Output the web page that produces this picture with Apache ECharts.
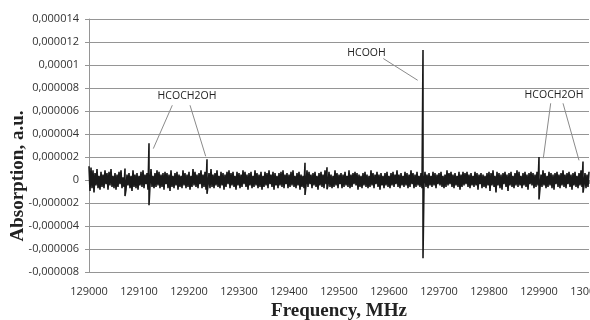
<!DOCTYPE html>
<html>
<head>
<meta charset="utf-8">
<script src="https://cdn.jsdelivr.net/npm/echarts@6/dist/echarts.min.js"></script>
<style>
  html, body { margin: 0; padding: 0; background: #fff; }
  #chart { width: 590px; height: 320px; }
</style>
</head>
<body>
<div id="chart"></div>
<script>
// spectrum sampled every 2 MHz from 129000 MHz, noise in units of 1.2e-7
const freqStart = 129000;
const freqStep = 2;
const noiseUnit = 1.2e-7;
const noise = [
  10,-8,9,-6,7,-9,5,-4,8,-6,3,-7,6,-5,4,-6,7,-3,5,-7,6,-4,8,-5,3,
  -6,5,-7,4,-5,6,-3,7,-6,2,-5,6,-7,4,-4,5,-6,3,-8,7,-5,4,-6,5,-7,
  3,-4,6,-5,7,-6,4,-3,5,-7,6,-4,8,-5,3,-6,5,-5,7,-4,6,-6,4,-5,5,
  -7,6,-3,5,-6,4,-8,7,-5,3,-6,5,-4,6,-7,4,-5,3,-6,7,-4,5,-6,4,-5,
  6,-7,3,-5,8,-4,6,-5,4,-6,5,-3,7,-6,4,-5,6,-7,3,-4,5,-6,8,-5,4,
  -6,5,-4,7,-5,3,-6,6,-4,5,-7,4,-5,6,-3,7,-6,5,-4,6,-5,3,-7,6,-4,
  5,-6,4,-5,7,-3,6,-5,4,-7,5,-4,6,-6,3,-5,7,-4,5,-6,4,-5,6,-7,3,
  -5,6,-4,5,-6,7,-3,4,-5,6,-7,5,-4,3,-6,5,-4,6,-5,7,-6,4,-3,5,-6,
  4,-5,6,-4,7,-5,3,-6,5,-4,6,-7,4,-5,3,-6,5,-4,7,-5,6,-3,4,-6,5,
  -4,6,-5,3,-7,5,-4,6,-5,4,-6,7,-3,5,-4,6,-5,4,-6,3,-5,7,-4,5,-6,
  4,-3,5,-6,4,-5,6,-4,3,-5,7,-6,4,-5,5,-3,6,-4,5,-7,4,-5,3,-6,5,
  -4,6,-5,4,-6,3,-5,7,-4,5,-6,4,-3,6,-5,4,-7,5,-4,3,-6,5,-4,6,-5,
  3,-6,5,-4,6,-5,4,-3,7,-5,4,-6,5,-4,3,-5,6,-4,5,-6,4,-5,7,-3,5,
  -6,4,-5,6,-4,3,-5,5,-6,4,-3,6,-5,4,-6,5,-4,3,-5,6,-4,5,-6,4,-3,
  5,-4,6,-5,3,-6,4,-5,7,-4,5,-3,6,-5,4,-6,5,-4,3,-5,6,-7,4,-5,6,
  -4,5,-3,6,-5,4,-6,5,-4,3,-5,6,-4,5,-7,4,-3,5,-6,4,-5,3,-6,5,-4,
  6,-8,5,-4,7,-5,3,-9,6,-4,5,-6,4,-7,5,-3,6,-5,4,-8,5,-4,6,-5,3,
  -6,5,-4,7,-5,6,-4,3,-6,5,-4,6,-5,4,-7,5,-3,6,-4,5,-6,4,-5,6,-4,
  5,-6,4,-5,7,-4,5,-6,3,-5,6,-4,5,-6,4,-7,5,-3,6,-5,4,-6,5,-4,7,
  -5,4,-6,5,-3,6,-5,4,-7,5,-4,6,-5,3,-6,5,-4,7,-5,6,-4,5,-6,4,-5,
  6
];
// sharp lines: frequency (MHz), top and bottom (absorption, a.u.)
const lineFreq   = [129072, 129120, 129236, 129432, 129476, 129668, 129900, 129988];
const lineTop    = [1.0e-6, 3.2e-6, 1.8e-6, 1.5e-6, 1.1e-6, 11.3e-6, 2.0e-6, 1.6e-6];
const lineBottom = [-1.4e-6, -2.2e-6, -1.2e-6, -1.3e-6, -0.8e-6, -6.8e-6, -1.7e-6, -1.1e-6];

// annotation texts and leader lines, in data coordinates
const noteNames = ['HCOCH2OH', 'HCOOH', 'HCOCH2OH'];
const noteFreq  = [129196, 129555, 129930];
const noteValue = [7.3e-6, 11.02e-6, 7.37e-6];
const leaders = [
  [[129166.6, 6.5e-6], [129128.6, 2.73e-6]],
  [[129202, 6.5e-6], [129233.4, 2.06e-6]],
  [[129588.6, 10.56e-6], [129657.4, 8.67e-6]],
  [[129923.4, 6.67e-6], [129908.6, 1.89e-6]],
  [[129948, 6.67e-6], [129980, 1.71e-6]]
];

const points = [];
noise.forEach((n, i) => {
  const f = freqStart + i * freqStep;
  const k = lineFreq.indexOf(f);
  if (k >= 0) {
    points.push([f, lineTop[k]]);
    points.push([f, lineBottom[k]]);
  } else {
    points.push([f, n * noiseUnit]);
  }
});

const tickFont = { fontFamily: 'Open Sans', fontSize: 11, color: '#333' };
const gridColor = '#959595';

const chart = echarts.init(document.getElementById('chart'));
chart.setOption({
  animation: false,
  grid: { left: 89, right: 1, top: 19, bottom: 48, containLabel: false, outerBoundsMode: 'none' },
  xAxis: {
    type: 'value',
    min: 129000,
    max: 130000,
    interval: 100,
    name: 'Frequency, MHz',
    nameLocation: 'middle',
    nameGap: 29,
    nameTextStyle: { fontFamily: 'Liberation Serif', fontWeight: 'bold', fontSize: 19, color: '#222' },
    axisLine: { lineStyle: { color: gridColor } },
    axisTick: { length: 4, lineStyle: { color: gridColor } },
    axisLabel: Object.assign({ margin: 14, hideOverlap: false, formatter: v => String(v) }, tickFont),
    splitLine: { show: false }
  },
  yAxis: {
    type: 'value',
    min: -8e-6,
    max: 14e-6,
    interval: 2e-6,
    axisLine: { show: true, lineStyle: { color: gridColor } },
    axisTick: { show: true, length: 4, lineStyle: { color: gridColor } },
    axisLabel: Object.assign({
      margin: 10,
      formatter: v => String(Math.round(v * 1e7) / 1e7).replace('.', ',')
    }, tickFont),
    splitLine: { lineStyle: { color: gridColor, width: 1 } }
  },
  graphic: [{
    type: 'text',
    x: 18,
    y: 176,
    rotation: Math.PI / 2,
    style: {
      text: 'Absorption, a.u.',
      font: 'bold 19px "Liberation Serif"',
      fill: '#222',
      textAlign: 'center',
      textVerticalAlign: 'middle'
    }
  }],
  series: [{
    type: 'line',
    data: points,
    showSymbol: false,
    silent: true,
    sampling: null,
    lineStyle: { color: '#1a1a1a', width: 1.6 },
    markLine: {
      silent: true,
      symbol: ['none', 'none'],
      label: { show: false },
      lineStyle: { color: '#8a8a8a', width: 1, type: 'solid' },
      data: leaders.map(([a, b]) => [{ coord: a }, { coord: b }])
    },
    markPoint: {
      silent: true,
      symbol: 'circle',
      symbolSize: 1,
      itemStyle: { color: 'rgba(0,0,0,0)' },
      label: {
        show: true,
        position: 'inside',
        formatter: '{b}',
        fontFamily: 'Open Sans',
        fontSize: 10.5,
        color: '#222'
      },
      data: noteNames.map((name, i) => ({ name, coord: [noteFreq[i], noteValue[i]] }))
    }
  }]
});
</script>
</body>
</html>
